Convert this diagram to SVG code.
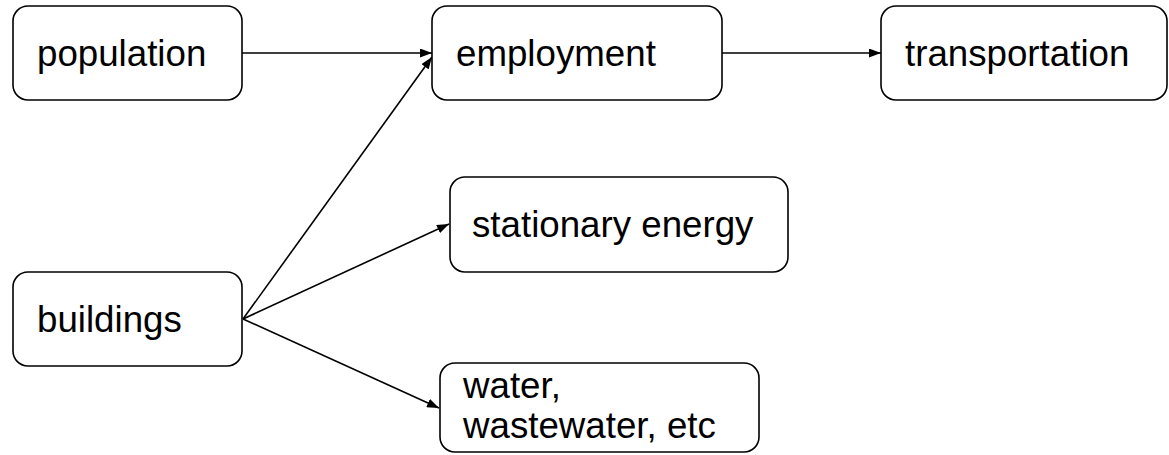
<svg xmlns="http://www.w3.org/2000/svg" width="1169" height="455" viewBox="0 0 1169 455">
<style>
.box{fill:#fff;stroke:#000;stroke-width:1.6}
.lbl{font-family:"Liberation Sans",Arial,sans-serif;font-size:36.7px;fill:#000}
.edge{stroke:#000;stroke-width:1.6;fill:none;marker-end:url(#arr)}
</style>
<defs>
<marker id="arr" markerUnits="userSpaceOnUse" markerWidth="12" markerHeight="9" refX="12" refY="4.5" orient="auto">
<path d="M0,0 L12,4.5 L0,9 z" fill="#000"/>
</marker>
</defs>
<rect width="1169" height="455" fill="#fff"/>
<g id="connectors">
<line class="edge" x1="242" y1="53" x2="432" y2="53"/>
<line class="edge" x1="722" y1="53" x2="881" y2="53"/>
<line class="edge" x1="243" y1="319" x2="432" y2="57"/>
<line class="edge" x1="243" y1="319" x2="449" y2="224"/>
<line class="edge" x1="243" y1="319" x2="439" y2="408"/>
</g>
<g id="population">
<rect class="box" x="13" y="6" width="229" height="94" rx="15"/>
<text class="lbl" x="37" y="66">population</text>
</g>
<g id="employment">
<rect class="box" x="432" y="6" width="290" height="94" rx="15"/>
<text class="lbl" x="456" y="66">employment</text>
</g>
<g id="transportation">
<rect class="box" x="881" y="6" width="286" height="94" rx="15"/>
<text class="lbl" x="905" y="66">transportation</text>
</g>
<g id="buildings">
<rect class="box" x="13" y="272" width="229" height="94" rx="15"/>
<text class="lbl" x="37" y="332">buildings</text>
</g>
<g id="stationary_energy">
<rect class="box" x="450" y="177" width="338" height="95" rx="15"/>
<text class="lbl" x="472" y="237">stationary energy</text>
</g>
<g id="water">
<rect class="box" x="440" y="363" width="319" height="89" rx="15"/>
<text class="lbl" x="463" y="398">water,</text>
<text class="lbl" x="463" y="438">wastewater, etc</text>
</g>
</svg>
